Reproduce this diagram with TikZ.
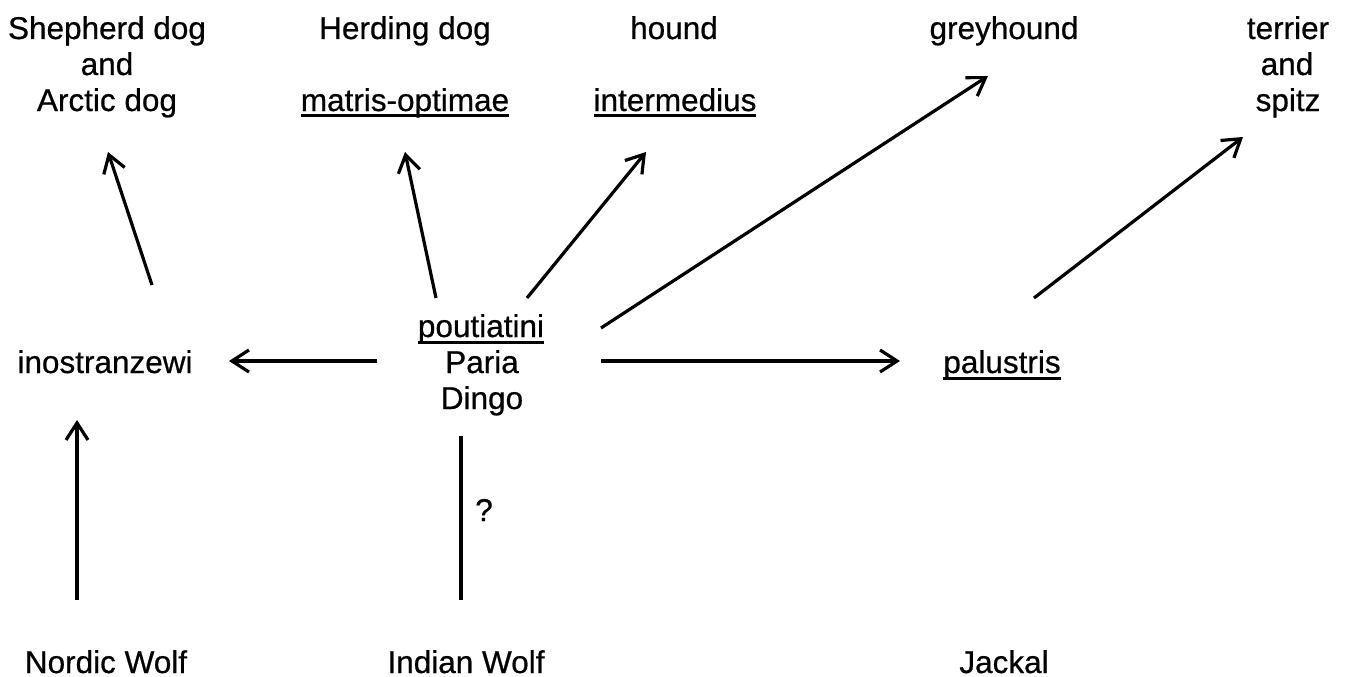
\documentclass[tikz,border=0pt]{standalone}
\usepackage{fontspec}
\setmainfont{Liberation Sans}[FakeBold=0.6]
\usetikzlibrary{arrows.meta}
\newcommand\ulw[1]{\setbox0=\hbox{#1}\rlap{\rule[-6.5pt]{\wd0}{3pt}}\box0}
\begin{document}
\begin{tikzpicture}[x=1pt,y=-1pt,
  lbl/.style={anchor=base,inner sep=0pt,font=\fontsize{31.5pt}{36pt}\selectfont},
  conn/.style={line width=3.2pt,-{Straight Barb[length=17pt,width=22pt]}},
  plain/.style={line width=3.2pt}]
\useasboundingbox (0,0) rectangle (1345,677);
% top row
\node[lbl] (shep1) at (107,39) {Shepherd dog};
\node[lbl] (shep2) at (107,75) {and};
\node[lbl] (shep3) at (107,111) {Arctic dog};
\node[lbl] (herd) at (405,39) {Herding dog};
\node[lbl] (matris) at (405,111) {\ulw{matris-optimae}};
\node[lbl] (hound) at (674,39) {hound};
\node[lbl] (inter) at (675,111) {\ulw{intermedius}};
\node[lbl] (grey) at (1004,39) {greyhound};
\node[lbl] (terr1) at (1288,39) {terrier};
\node[lbl] (terr2) at (1287,75) {and};
\node[lbl] (terr3) at (1288,111) {spitz};
% middle row
\node[lbl] (ino) at (105,373) {inostranzewi};
\node[lbl] (pout) at (481,337) {\ulw{poutiatini}};
\node[lbl] (paria) at (482,373) {Paria};
\node[lbl] (dingo) at (482,409) {Dingo};
\node[lbl] (palu) at (1002,373) {\ulw{palustris}};
% bottom row
\node[lbl] (nordic) at (106,673) {Nordic Wolf};
\node[lbl] (indian) at (466,673) {Indian Wolf};
\node[lbl] (jackal) at (1004,673) {Jackal};
\node[lbl] (q) at (484,521) {?};
% connector end points
\coordinate (a1s) at (152,285);  \coordinate (a1e) at (108,152);
\coordinate (a2s) at (436,298);  \coordinate (a2e) at (405,152);
\coordinate (a3s) at (527,298);  \coordinate (a3e) at (646,152);
\coordinate (a4s) at (601,328);  \coordinate (a4e) at (988,76);
\coordinate (a5s) at (1034,298); \coordinate (a5e) at (1243,137);
\coordinate (a6s) at (377,361);  \coordinate (a6e) at (229,361);
\coordinate (a7s) at (601,361);  \coordinate (a7e) at (900,361);
\coordinate (a8s) at (77,600);   \coordinate (a8e) at (77,420);
\coordinate (a9s) at (461,436);  \coordinate (a9e) at (461,600);
\draw[conn] (a1s) -- (a1e);
\draw[conn] (a2s) -- (a2e);
\draw[conn] (a3s) -- (a3e);
\draw[conn] (a4s) -- (a4e);
\draw[conn] (a5s) -- (a5e);
\draw[conn] (a6s) -- (a6e);
\draw[conn] (a7s) -- (a7e);
\draw[conn] (a8s) -- (a8e);
\draw[plain] (a9s) -- (a9e);
\end{tikzpicture}
\end{document}
